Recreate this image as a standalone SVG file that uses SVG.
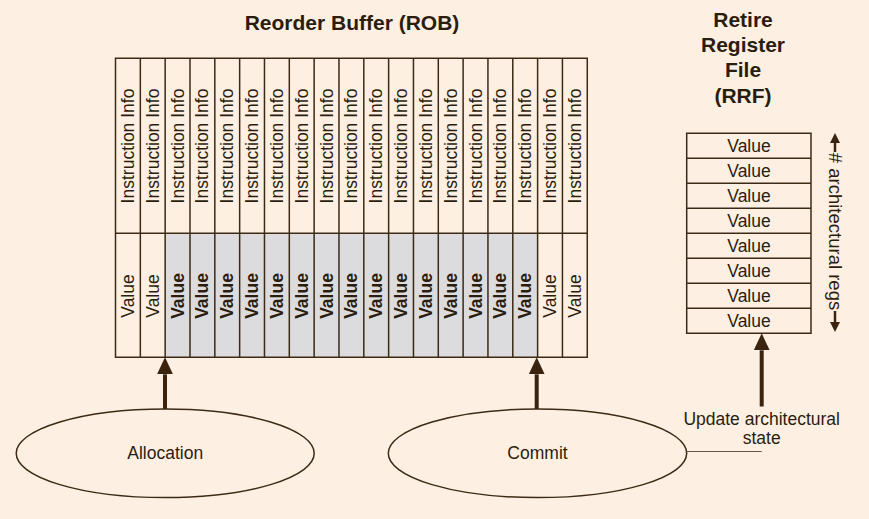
<svg xmlns="http://www.w3.org/2000/svg" width="869" height="519" viewBox="0 0 869 519">
<defs>
<style>
.t{font-family:"Liberation Sans",Arial,sans-serif;font-size:17.5px;fill:#2b1d0e}
.b{font-weight:bold}
.ttl{font-family:"Liberation Sans",Arial,sans-serif;font-size:21px;font-weight:bold;fill:#2b1d0e;text-anchor:middle}
.c{text-anchor:middle}
.grid{fill:none;stroke:#3c2a16;stroke-width:1.5}
.ell{fill:none;stroke:#3c2a16;stroke-width:1.5}
.big{stroke:#3a2410;stroke-width:4;fill:none}
.sm{stroke:#3a2410;stroke-width:2.5;fill:none}
</style>
<marker id="ah" markerUnits="userSpaceOnUse" markerWidth="17" markerHeight="16" refX="0" refY="8" orient="auto" viewBox="0 0 17 16">
<path d="M0,0 L17,8 L0,16 z" fill="#3a2410"/>
</marker>
<marker id="as" markerUnits="userSpaceOnUse" markerWidth="10" markerHeight="10" refX="0" refY="5" orient="auto" viewBox="0 0 10 10">
<path d="M0,0 L10,5 L0,10 z" fill="#3a2410"/>
</marker>
</defs>
<rect width="869" height="519" fill="#fdf0e2"/>

<g id="rob-title"><text class="ttl" x="352" y="30">Reorder Buffer (ROB)</text></g>
<g id="rrf-title">
<text class="ttl" x="743" y="27">Retire</text>
<text class="ttl" x="743" y="52">Register</text>
<text class="ttl" x="743" y="77">File</text>
<text class="ttl" x="743" y="103">(RRF)</text>
</g>

<g id="rob">
<rect x="165.16" y="233.3" width="372.45" height="124" fill="#dcdcde"/>
<path class="grid" d="M115.5,58.3 H587.27 V357.3 H115.5 Z M115.5,233.3 H587.27 M140.33,58.3 V357.3 M165.16,58.3 V357.3 M189.99,58.3 V357.3 M214.82,58.3 V357.3 M239.65,58.3 V357.3 M264.48,58.3 V357.3 M289.31,58.3 V357.3 M314.14,58.3 V357.3 M338.97,58.3 V357.3 M363.8,58.3 V357.3 M388.63,58.3 V357.3 M413.46,58.3 V357.3 M438.29,58.3 V357.3 M463.12,58.3 V357.3 M487.95,58.3 V357.3 M512.78,58.3 V357.3 M537.61,58.3 V357.3 M562.44,58.3 V357.3"/>
<g class="t c">
<text transform="translate(133.9,146) rotate(-90)">Instruction Info</text>
<text transform="translate(158.8,146) rotate(-90)">Instruction Info</text>
<text transform="translate(183.6,146) rotate(-90)">Instruction Info</text>
<text transform="translate(208.4,146) rotate(-90)">Instruction Info</text>
<text transform="translate(233.2,146) rotate(-90)">Instruction Info</text>
<text transform="translate(258.1,146) rotate(-90)">Instruction Info</text>
<text transform="translate(282.9,146) rotate(-90)">Instruction Info</text>
<text transform="translate(307.7,146) rotate(-90)">Instruction Info</text>
<text transform="translate(332.6,146) rotate(-90)">Instruction Info</text>
<text transform="translate(357.4,146) rotate(-90)">Instruction Info</text>
<text transform="translate(382.2,146) rotate(-90)">Instruction Info</text>
<text transform="translate(407.1,146) rotate(-90)">Instruction Info</text>
<text transform="translate(431.9,146) rotate(-90)">Instruction Info</text>
<text transform="translate(456.7,146) rotate(-90)">Instruction Info</text>
<text transform="translate(481.5,146) rotate(-90)">Instruction Info</text>
<text transform="translate(506.4,146) rotate(-90)">Instruction Info</text>
<text transform="translate(531.2,146) rotate(-90)">Instruction Info</text>
<text transform="translate(556.0,146) rotate(-90)">Instruction Info</text>
<text transform="translate(580.9,146) rotate(-90)">Instruction Info</text>
<text transform="translate(133.9,296) rotate(-90)">Value</text>
<text transform="translate(158.8,296) rotate(-90)">Value</text>
<text class="b" transform="translate(183.6,296) rotate(-90)">Value</text>
<text class="b" transform="translate(208.4,296) rotate(-90)">Value</text>
<text class="b" transform="translate(233.2,296) rotate(-90)">Value</text>
<text class="b" transform="translate(258.1,296) rotate(-90)">Value</text>
<text class="b" transform="translate(282.9,296) rotate(-90)">Value</text>
<text class="b" transform="translate(307.7,296) rotate(-90)">Value</text>
<text class="b" transform="translate(332.6,296) rotate(-90)">Value</text>
<text class="b" transform="translate(357.4,296) rotate(-90)">Value</text>
<text class="b" transform="translate(382.2,296) rotate(-90)">Value</text>
<text class="b" transform="translate(407.1,296) rotate(-90)">Value</text>
<text class="b" transform="translate(431.9,296) rotate(-90)">Value</text>
<text class="b" transform="translate(456.7,296) rotate(-90)">Value</text>
<text class="b" transform="translate(481.5,296) rotate(-90)">Value</text>
<text class="b" transform="translate(506.4,296) rotate(-90)">Value</text>
<text class="b" transform="translate(531.2,296) rotate(-90)">Value</text>
<text transform="translate(556.0,296) rotate(-90)">Value</text>
<text transform="translate(580.9,296) rotate(-90)">Value</text>
</g>
</g>

<g id="rrf">
<path class="grid" d="M686.7,133.3 H811 V333.3 H686.7 Z M686.7,158.3 H811 M686.7,183.3 H811 M686.7,208.3 H811 M686.7,233.3 H811 M686.7,258.3 H811 M686.7,283.3 H811 M686.7,308.3 H811"/>
<g class="t c">
<text x="749" y="152">Value</text>
<text x="749" y="177">Value</text>
<text x="749" y="202">Value</text>
<text x="749" y="227">Value</text>
<text x="749" y="252">Value</text>
<text x="749" y="277">Value</text>
<text x="749" y="302">Value</text>
<text x="749" y="327">Value</text>
</g>
</g>

<g id="regs-label">
<text class="t c" style="font-size:18.5px" transform="translate(828.5,231.5) rotate(90)"># architectural regs</text>
</g>

<g id="allocation">
<ellipse class="ell" cx="165.2" cy="453.3" rx="149" ry="44.3"/>
<text class="t c" x="165.2" y="459">Allocation</text>
</g>
<g id="commit">
<ellipse class="ell" cx="537.5" cy="453.3" rx="149.2" ry="44.3"/>
<text class="t c" x="537.5" y="459">Commit</text>
</g>
<g id="update-label">
<text class="t c" x="761.7" y="424.5">Update architectural</text>
<text class="t c" x="761.7" y="443.5">state</text>
</g>

<g id="connectors">
<line class="big" x1="165" y1="409" x2="165" y2="374.3" marker-end="url(#ah)"/>
<line class="big" x1="536.7" y1="409" x2="536.7" y2="374.3" marker-end="url(#ah)"/>
<line class="big" x1="761.7" y1="406.5" x2="761.7" y2="350.3" marker-end="url(#ah)"/>
<line class="sm" x1="835" y1="152" x2="835" y2="143" marker-end="url(#as)"/>
<line class="sm" x1="835" y1="311" x2="835" y2="322" marker-end="url(#as)"/>
<line x1="686.7" y1="451.5" x2="761.7" y2="451.5" stroke="#6b5a48" stroke-width="1"/>
</g>
</svg>
